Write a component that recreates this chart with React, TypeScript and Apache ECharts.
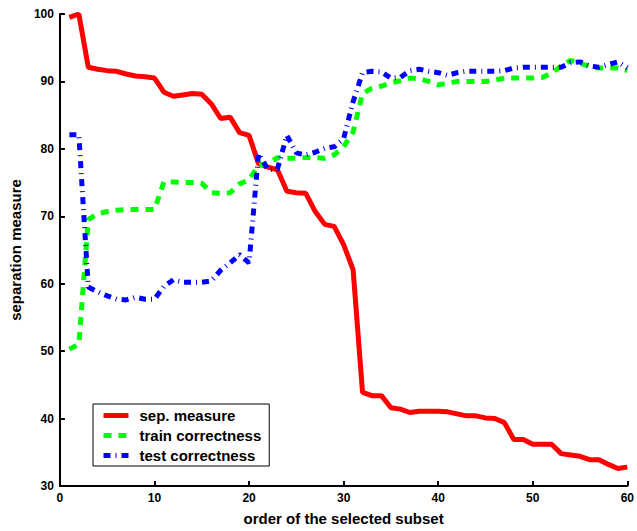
import React, { useEffect, useRef } from "react";
import * as echarts from "echarts";

const order = [
  1, 2, 3, 4, 5, 6, 7, 8, 9, 10, 11, 12, 13, 14, 15, 16, 17, 18, 19, 20,
  21, 22, 23, 24, 25, 26, 27, 28, 29, 30, 31, 32, 33, 34, 35, 36, 37, 38, 39, 40,
  41, 42, 43, 44, 45, 46, 47, 48, 49, 50, 51, 52, 53, 54, 55, 56, 57, 58, 59, 60,
];

const sepMeasure = [
  99.5, 100, 92.1, 91.8, 91.6, 91.5, 91.1, 90.8, 90.7, 90.5,
  88.4, 87.8, 88.0, 88.2, 88.1, 86.7, 84.5, 84.7, 82.4, 82.0,
  77.8, 77.3, 76.9, 73.7, 73.5, 73.4, 70.7, 68.8, 68.5, 65.8,
  62.1, 43.9, 43.4, 43.4, 41.6, 41.4, 40.9, 41.1, 41.1, 41.1,
  41.0, 40.7, 40.4, 40.4, 40.1, 40.0, 39.4, 36.9, 36.9, 36.2,
  36.2, 36.2, 34.8, 34.6, 34.4, 33.9, 33.9, 33.2, 32.6, 32.8,
];

const trainCorrectness = [
  50.3, 51.0, 69.5, 70.4, 70.7, 70.9, 71.0, 71.0, 71.0, 71.0,
  75.1, 75.1, 75.0, 75.0, 74.9, 73.5, 73.4, 73.5, 74.8, 75.4,
  77.6, 77.8, 78.7, 78.6, 78.6, 78.7, 78.7, 78.6, 79.1, 80.3,
  82.5, 88.2, 89.0, 89.3, 89.8, 90.1, 90.5, 90.4, 90.0, 89.5,
  89.7, 90.0, 90.0, 90.0, 90.0, 90.2, 90.5, 90.5, 90.5, 90.5,
  90.6, 91.2, 92.3, 93.1, 92.7, 92.2, 92.0, 92.0, 92.0, 91.6,
];

const testCorrectness = [
  82.1, 82.1, 59.5, 58.8, 58.2, 57.7, 57.6, 58.0, 57.7, 57.7,
  59.6, 60.6, 60.2, 60.2, 60.2, 60.4, 62.0, 63.1, 64.3, 63.1,
  79.3, 76.9, 77.0, 82.0, 79.4, 79.1, 79.5, 80.1, 80.3, 81.5,
  87.0, 91.3, 91.5, 91.4, 90.5, 90.6, 91.6, 91.8, 91.5, 91.3,
  90.9, 91.3, 91.5, 91.5, 91.5, 91.5, 91.6, 92.0, 92.1, 92.1,
  92.1, 92.1, 92.1, 92.8, 92.9, 92.3, 92.1, 92.5, 92.9, 92.0,
];

const seriesNames = ["sep. measure", "train correctness", "test correctness"];

const FONT = "'Liberation Sans', Arial, Helvetica, sans-serif";

export default function App() {
  const ref = useRef<HTMLDivElement>(null);

  useEffect(() => {
    if (!ref.current) return;
    const chart = echarts.init(ref.current, null, { renderer: "svg" });
    const pairs = (ys: number[]) => order.map((x, i) => [x, ys[i]]);
    chart.setOption({
      animation: false,
      backgroundColor: "#ffffff",
      textStyle: { fontFamily: FONT },
      grid: { left: 57, right: 8, top: 14, bottom: 41.5, containLabel: false },
      legend: {
        orient: "vertical",
        left: 93,
        top: 404,
        backgroundColor: "#ffffff",
        borderColor: "#000000",
        borderWidth: 1,
        borderRadius: 0,
        padding: [4, 8, 3, 8],
        itemWidth: 25,
        itemHeight: 14,
        itemGap: 5,
        itemStyle: { opacity: 0 },
        lineStyle: { width: 5 },
        textStyle: {
          fontFamily: FONT,
          fontSize: 15,
          fontWeight: "bold",
          color: "#000000",
          lineHeight: 15,
          padding: [0, 0, 0, 6],
        },
        data: seriesNames,
      },
      xAxis: {
        type: "value",
        min: 0,
        max: 60,
        interval: 10,
        name: "order of the selected subset",
        nameLocation: "middle",
        nameGap: 25,
        nameTextStyle: { fontFamily: FONT, fontSize: 15, fontWeight: "bold", color: "#000" },
        axisLine: { show: true, lineStyle: { color: "#000", width: 2 } },
        axisTick: { show: true, inside: true, length: 5, lineStyle: { color: "#000", width: 2 } },
        axisLabel: { fontFamily: FONT, fontSize: 12, fontWeight: "bold", color: "#000", margin: 6 },
        splitLine: { show: false },
      },
      yAxis: {
        type: "value",
        min: 30,
        max: 100,
        interval: 10,
        name: "separation measure",
        nameLocation: "middle",
        nameGap: 33,
        nameTextStyle: { fontFamily: FONT, fontSize: 15, fontWeight: "bold", color: "#000" },
        axisLine: { show: true, lineStyle: { color: "#000", width: 2 } },
        axisTick: { show: true, inside: true, length: 5, lineStyle: { color: "#000", width: 2 } },
        axisLabel: { fontFamily: FONT, fontSize: 12, fontWeight: "bold", color: "#000", margin: 6 },
        splitLine: { show: false },
      },
      series: [
        {
          name: seriesNames[0],
          type: "line",
          data: pairs(sepMeasure),
          showSymbol: false,
          symbol: "none",
          color: "#ff0000",
          lineStyle: { color: "#ff0000", width: 5, type: "solid" },
          z: 3,
        },
        {
          name: seriesNames[1],
          type: "line",
          data: pairs(trainCorrectness),
          showSymbol: false,
          symbol: "none",
          color: "#00ff00",
          lineStyle: { color: "#00ff00", width: 5, type: [8, 7] },
          z: 4,
        },
        {
          name: seriesNames[2],
          type: "line",
          data: pairs(testCorrectness),
          showSymbol: false,
          symbol: "none",
          color: "#0000ff",
          lineStyle: { color: "#0000ff", width: 5, type: [7, 5, 1, 5] },
          z: 5,
        },
      ],
    });
    return () => chart.dispose();
  }, []);

  return (
    <div
      ref={ref}
      style={{ position: "fixed", left: 0, top: 0, width: 637, height: 531, background: "#fff" }}
    />
  );
}
